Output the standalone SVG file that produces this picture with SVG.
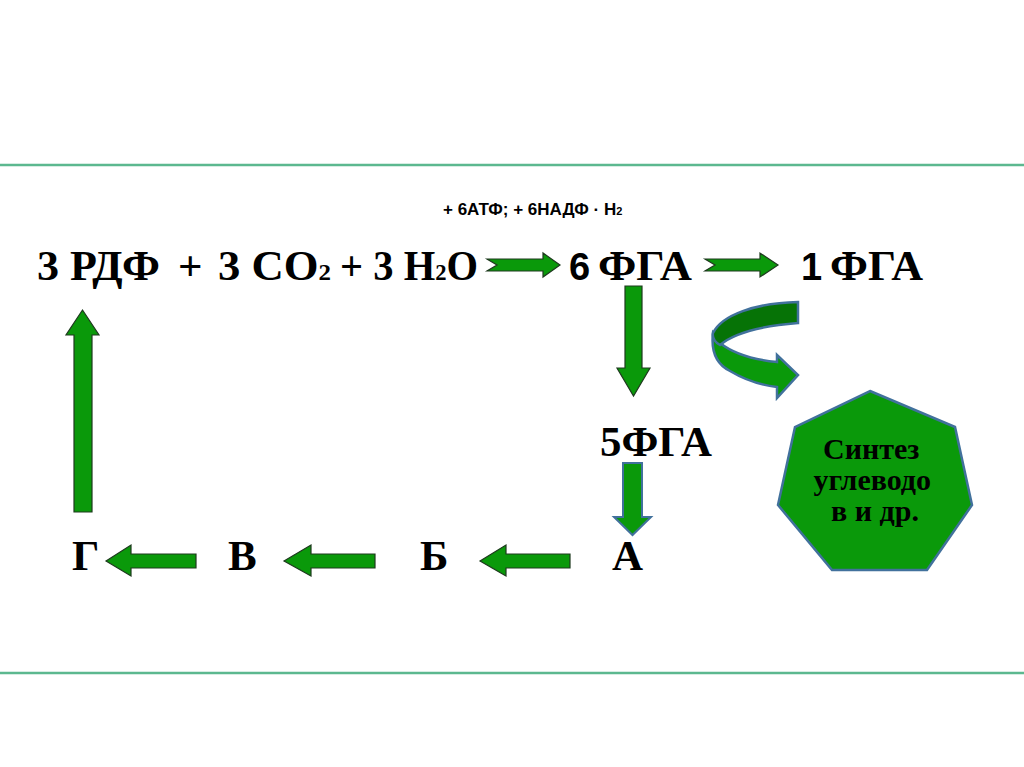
<svg xmlns="http://www.w3.org/2000/svg" width="1024" height="767" viewBox="0 0 1024 767">
<style>
.serif{font-family:"Liberation Serif","Times New Roman",serif;font-weight:bold;fill:#000}
.sans{font-family:"Liberation Sans",Arial,sans-serif;font-weight:bold;fill:#000}
.big{font-size:43px}
.arr{fill:#0a990a;stroke:#1e3a1e;stroke-width:1.2;stroke-linejoin:miter}
.arrb{fill:#0a990a;stroke:#41719c;stroke-width:2;stroke-linejoin:miter}
.rule{stroke:#5cb88f;stroke-width:2.5}
</style>
<rect width="1024" height="767" fill="#fff"/>
<line class="rule" x1="0" y1="165" x2="1024" y2="165"/>
<line class="rule" x1="0" y1="673" x2="1024" y2="673"/>

<g id="label-top">
<text class="sans" x="443" y="215" font-size="17">+ 6АТФ; + 6НАДФ · Н<tspan font-size="11">2</tspan></text>
</g>

<g id="node-reactants">
<text class="serif big" x="37" y="280" textLength="123" lengthAdjust="spacingAndGlyphs">3 РДФ</text>
<text class="serif big" x="178" y="280">+</text>
<text class="serif big" x="218" y="280" textLength="113" lengthAdjust="spacingAndGlyphs">3 CO<tspan font-size="24">2</tspan></text>
<text class="serif big" x="340" y="280" textLength="138" lengthAdjust="spacingAndGlyphs">+ 3 H<tspan font-size="24">2</tspan>O</text>
</g>

<g id="node-6fga">
<text class="sans" font-size="38" x="569" y="280">6</text>
<text class="serif big" x="598" y="280" textLength="94" lengthAdjust="spacingAndGlyphs">ФГА</text>
</g>

<g id="node-1fga">
<text class="sans" font-size="38" x="801" y="280">1</text>
<text class="serif big" x="830" y="280" textLength="93" lengthAdjust="spacingAndGlyphs">ФГА</text>
</g>

<g id="node-5fga">
<text class="serif big" x="600" y="456" textLength="112" lengthAdjust="spacingAndGlyphs">5ФГА</text>
</g>

<g id="node-A"><text class="serif big" x="612" y="570">А</text></g>
<g id="node-B"><text class="serif big" x="420" y="570">Б</text></g>
<g id="node-V"><text class="serif big" x="228" y="570">В</text></g>
<g id="node-G"><text class="serif big" x="72" y="570">Г</text></g>

<g id="node-synthesis">
<polygon points="870,391 955,427 972,505 927,570 832,570 778,505 795,427" fill="#0a990a" stroke="#41719c" stroke-width="2.5"/>
<text class="serif" font-size="30" text-anchor="middle">
<tspan x="875" y="459">Синтез</tspan>
<tspan x="876" y="490">углеводо</tspan>
<tspan x="875" y="521">в и др.</tspan>
</text>
</g>

<g id="connectors">
<polygon class="arr" points="487,259 543,259 543,253 560,265 543,277 543,271 487,271 497,265"/>
<polygon class="arr" points="705,259 760,259 760,253 778,265 760,277 760,271 705,271 715,265"/>
<polygon class="arr" points="625,286 642,286 642,368 650,368 633.5,396 617,368 625,368"/>
<polygon class="arrb" points="623,463 642,463 642,517 651,517 632.5,535 614,517 623,517"/>
<polygon class="arr" points="74,512 74,335 66,335 82.5,310 99,335 92,335 92,512"/>
<polygon class="arr" points="106,561 131,545 131,554 196,554 196,568 131,568 131,576"/>
<polygon class="arr" points="284,561 311,545 311,554 375,554 375,568 311,568 311,576"/>
<polygon class="arr" points="480,561 506,545 506,554 570,554 570,568 506,568 506,576"/>
<g id="curved-arrow">
<path d="M713,333 C711,350 716,364 730,371 C745,380 760,385 777,387 L777,398 L798,375 L777,355 L777,362 C757,360 735,355 720,343 Z" fill="#0a990a" stroke="#41719c" stroke-width="2.5" stroke-linejoin="miter"/>
<path d="M798,302 C755,303 722,315 713,333 C712,338 715,342 720,345 C733,334 760,326 798,323 Z" fill="#067306" stroke="#41719c" stroke-width="2.5" stroke-linejoin="miter"/>
</g>
</g>
</svg>
